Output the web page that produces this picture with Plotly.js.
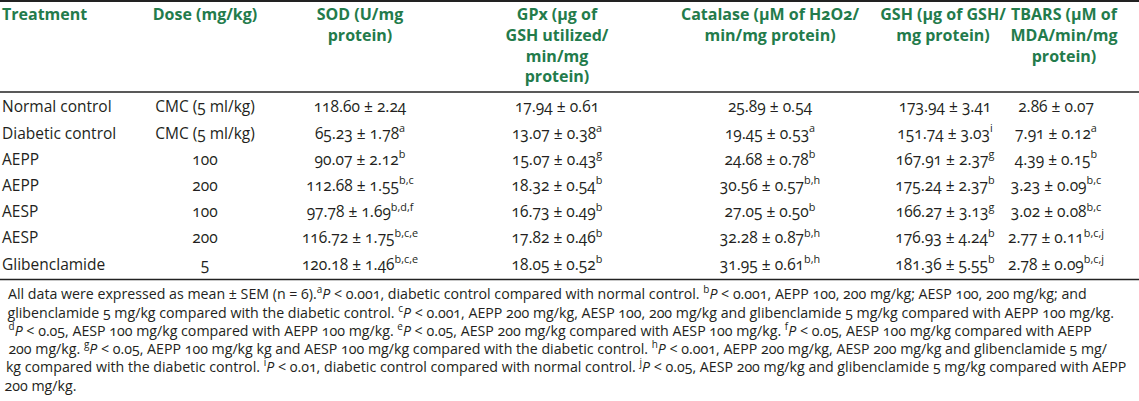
<!DOCTYPE html>
<html>
<head>
<meta charset="utf-8">
<script src="https://cdn.plot.ly/plotly-3.0.1.min.js"></script>
<style>
  html, body { margin: 0; padding: 0; background: #fff; }
  #chart { width: 1139px; height: 401px; }
  #chart text { font-feature-settings: "onum" 1; }
</style>
</head>
<body>
<div id="chart"></div>
<script>
// ---- table content ----
const headers = [
  "Treatment",
  "Dose (mg/kg)",
  "SOD (U/mg<br>protein)",
  "GPx (µg of<br>GSH utilized/<br>min/mg<br>protein)",
  "Catalase (µM of H2O2/<br>min/mg protein)",
  "GSH (µg of GSH/<br>mg protein)",
  "TBARS (µM of<br>MDA/min/mg<br>protein)"
];
const treatments = ["Normal control", "Diabetic control", "AEPP", "AEPP", "AESP", "AESP", "Glibenclamide"];
const doses = ["CMC (5 ml/kg)", "CMC (5 ml/kg)", "100", "200", "100", "200", "5"];

const sodMean = [118.60, 65.23, 90.07, 112.68, 97.78, 116.72, 120.18];
const sodSem  = [2.24, 1.78, 2.12, 1.55, 1.69, 1.75, 1.46];
const sodSig  = ["", "a", "b", "b,c", "b,d,f", "b,c,e", "b,c,e"];

const gpxMean = [17.94, 13.07, 15.07, 18.32, 16.73, 17.82, 18.05];
const gpxSem  = [0.61, 0.38, 0.43, 0.54, 0.49, 0.46, 0.52];
const gpxSig  = ["", "a", "g", "b", "b", "b", "b"];

const catMean = [25.89, 19.45, 24.68, 30.56, 27.05, 32.28, 31.95];
const catSem  = [0.54, 0.53, 0.78, 0.57, 0.50, 0.87, 0.61];
const catSig  = ["", "a", "b", "b,h", "b", "b,h", "b,h"];

const gshMean = [173.94, 151.74, 167.91, 175.24, 166.27, 176.93, 181.36];
const gshSem  = [3.41, 3.03, 2.37, 2.37, 3.13, 4.24, 5.55];
const gshSig  = ["", "i", "g", "b", "g", "b", "b"];

const tbMean = [2.86, 7.91, 4.39, 3.23, 3.02, 2.77, 2.78];
const tbSem  = [0.07, 0.12, 0.15, 0.09, 0.08, 0.11, 0.09];
const tbSig  = ["", "a", "b", "b,c", "b,c", "b,c,j", "b,c,j"];

const footLines = [
  "All data were expressed as mean ± SEM (n = 6).<sup>a</sup><i>P</i> &lt; 0.001, diabetic control compared with normal control. <sup>b</sup><i>P</i> &lt; 0.001, AEPP 100, 200 mg/kg; AESP 100, 200 mg/kg; and",
  "glibenclamide 5 mg/kg compared with the diabetic control. <sup>c</sup><i>P</i> &lt; 0.001, AEPP 200 mg/kg, AESP 100, 200 mg/kg and glibenclamide 5 mg/kg compared with AEPP 100 mg/kg.",
  "<sup>d</sup><i>P</i> &lt; 0.05, AESP 100 mg/kg compared with AEPP 100 mg/kg. <sup>e</sup><i>P</i> &lt; 0.05, AESP 200 mg/kg compared with AESP 100 mg/kg. <sup>f</sup><i>P</i> &lt; 0.05, AESP 100 mg/kg compared with AEPP",
  "200 mg/kg. <sup>g</sup><i>P</i> &lt; 0.05, AEPP 100 mg/kg kg and AESP 100 mg/kg compared with the diabetic control. <sup>h</sup><i>P</i> &lt; 0.001, AEPP 200 mg/kg, AESP 200 mg/kg and glibenclamide 5 mg/",
  "kg compared with the diabetic control. <sup>i</sup><i>P</i> &lt; 0.01, diabetic control compared with normal control. <sup>j</sup><i>P</i> &lt; 0.05, AESP 200 mg/kg and glibenclamide 5 mg/kg compared with AEPP",
  "200 mg/kg."
];

// ---- layout constants (pixel-like axis units) ----
const W = 1139, H = 401;
const headX = [2, 205, 360, 557, 770, 943, 1064];
const bodyX = [2, 205, 360, 557, 770, 945, 1056];
const headTop = 8;
const rowCenter0 = 108.5, rowStep = 26.2;
const footBottom0 = 305.5, footStep = 18.2;
const FONT = "Open Sans, Noto Sans, sans-serif";
const HEAD_COLOR = "#237b4b";
const TEXT_COLOR = "#231f20";

function fmt(m, s, sig) {
  return m.toFixed(2) + " ± " + s.toFixed(2) + (sig ? "<sup>" + sig + "</sup>" : "");
}
const valueCols = [
  sodMean.map((m, i) => fmt(m, sodSem[i], sodSig[i])),
  gpxMean.map((m, i) => fmt(m, gpxSem[i], gpxSig[i])),
  catMean.map((m, i) => fmt(m, catSem[i], catSig[i])),
  gshMean.map((m, i) => fmt(m, gshSem[i], gshSig[i])),
  tbMean.map((m, i) => fmt(m, tbSem[i], tbSig[i]))
];
const columns = [treatments, doses].concat(valueCols);
const rowY = treatments.map((_, i) => rowCenter0 + rowStep * i);

const traces = [];
// header
traces.push({
  type: "scatter", mode: "text",
  x: headX, y: headX.map(() => headTop),
  text: headers.map(h => "<b>" + h + "</b>"),
  textposition: headX.map((_, j) => j === 0 ? "bottom right" : "bottom center"),
  textfont: { family: FONT, size: 16, color: HEAD_COLOR },
  hoverinfo: "skip", showlegend: false, cliponaxis: false
});
// body columns
columns.forEach((col, j) => {
  traces.push({
    type: "scatter", mode: "text",
    x: col.map(() => bodyX[j]), y: rowY,
    text: col,
    textposition: j === 0 ? "middle right" : "middle center",
    textfont: { family: FONT, size: 15.5, color: TEXT_COLOR },
    hoverinfo: "skip", showlegend: false, cliponaxis: false
  });
});

const annotations = footLines.map((t, k) => ({
  xref: "x", yref: "y", x: 2, y: footBottom0 + footStep * k,
  text: t, showarrow: false, xanchor: "left", yanchor: "bottom",
  font: { family: FONT, size: 14.2, color: TEXT_COLOR }
}));

const ruleY = [1, 92, 279.5];
const shapes = ruleY.map((y, k) => ({
  type: "line", xref: "paper", yref: "y", x0: 0, x1: 1, y0: y, y1: y,
  line: { color: "#222", width: k === 0 ? 2 : 1.6 }
}));

const layout = {
  width: W, height: H,
  margin: { l: 0, r: 0, t: 0, b: 0 },
  paper_bgcolor: "#fff", plot_bgcolor: "#fff",
  xaxis: { range: [0, W], visible: false, fixedrange: true },
  yaxis: { range: [H, 0], visible: false, fixedrange: true },
  shapes: shapes,
  annotations: annotations,
  showlegend: false
};

Plotly.newPlot("chart", traces, layout, { staticPlot: true, displayModeBar: false });
</script>
</body>
</html>
